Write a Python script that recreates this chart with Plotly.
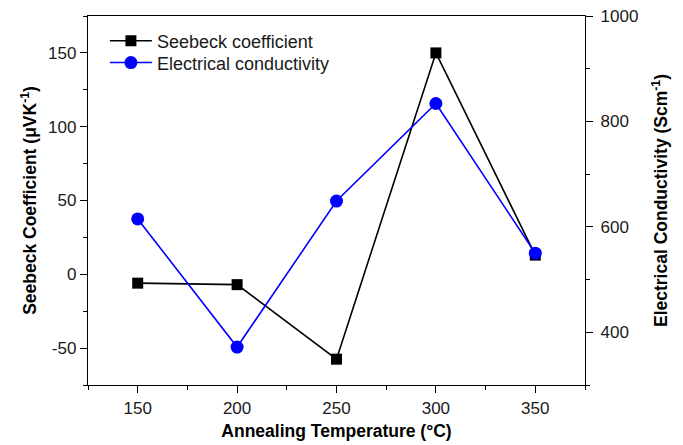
import plotly.graph_objects as go

temperature = [150, 200, 250, 300, 350]
seebeck = [-6, -7, -57.5, 150, 13]
conductivity = [615, 372, 649, 834, 550]

x_ticks = [150, 200, 250, 300, 350]
y_ticks = [-50, 0, 50, 100, 150]
y_ticklabels = ["-50", "0", "50", "100", "150"]
y2_ticks = [400, 600, 800, 1000]

FONT = "Liberation Sans, Arial, sans-serif"

fig = go.Figure()
fig.add_trace(go.Scatter(
    x=temperature, y=seebeck, mode="lines+markers", name="Seebeck coefficient",
    line=dict(color="black", width=1.6),
    marker=dict(symbol="square", size=11, color="black"),
    yaxis="y", legend="legend",
))
fig.add_trace(go.Scatter(
    x=temperature, y=conductivity, mode="lines+markers", name="Electrical conductivity",
    line=dict(color="#0000ff", width=1.6),
    marker=dict(symbol="circle", size=13, color="#0000ff"),
    yaxis="y2", legend="legend2",
))

axis_common = dict(
    showline=True, linecolor="black", linewidth=1.3,
    ticks="outside", ticklen=7, tickwidth=1.2, tickcolor="black",
    showgrid=False, zeroline=False, automargin=False,
    ticklabeloverflow="allow",
    tickfont=dict(family=FONT, size=17, color="#1a1a1a"),
)

legend_common = dict(
    xanchor="left", yanchor="middle",
    bgcolor="rgba(0,0,0,0)", font=dict(family=FONT, size=18, color="#1a1a1a"),
    itemwidth=42,
)

# page body has an 8px default margin; figure sized to fill the 683x445 window
fig.update_layout(
    width=675, height=437,
    margin=dict(l=80, r=98, t=8, b=60),
    paper_bgcolor="white", plot_bgcolor="white",
    font=dict(family=FONT, color="black"),
    showlegend=True,
    legend=dict(x=0.034, y=0.932, **legend_common),
    legend2=dict(x=0.034, y=0.873, **legend_common),
    xaxis=dict(
        range=[125, 375], tickvals=x_ticks,
        minor=dict(ticks="outside", ticklen=4, dtick=25, tick0=125, tickcolor="black", tickwidth=1.2),
        mirror=True,
        title=dict(text="<b>Annealing Temperature (°C)</b>", font=dict(family=FONT, size=17.5), standoff=8),
        **axis_common,
    ),
    yaxis=dict(
        range=[-75, 175], tickvals=y_ticks, ticktext=y_ticklabels,
        minor=dict(ticks="outside", ticklen=4, dtick=25, tick0=-75, tickcolor="black", tickwidth=1.2),
        title=dict(text="<b>Seebeck Coefficient (μVK<sup>-1</sup>)</b>", font=dict(family=FONT, size=17.5), standoff=6),
        **axis_common,
    ),
    yaxis2=dict(
        range=[300, 1000], tickvals=y2_ticks,
        minor=dict(ticks="outside", ticklen=4, dtick=100, tick0=300, tickcolor="black", tickwidth=1.2),
        overlaying="y", side="right", ticklabelstandoff=4,
        title=dict(text="<b>Electrical Conductivity (Scm<sup>-1</sup>)</b>", font=dict(family=FONT, size=17.5), standoff=17),
        **axis_common,
    ),
)

fig.write_html("out.html")
